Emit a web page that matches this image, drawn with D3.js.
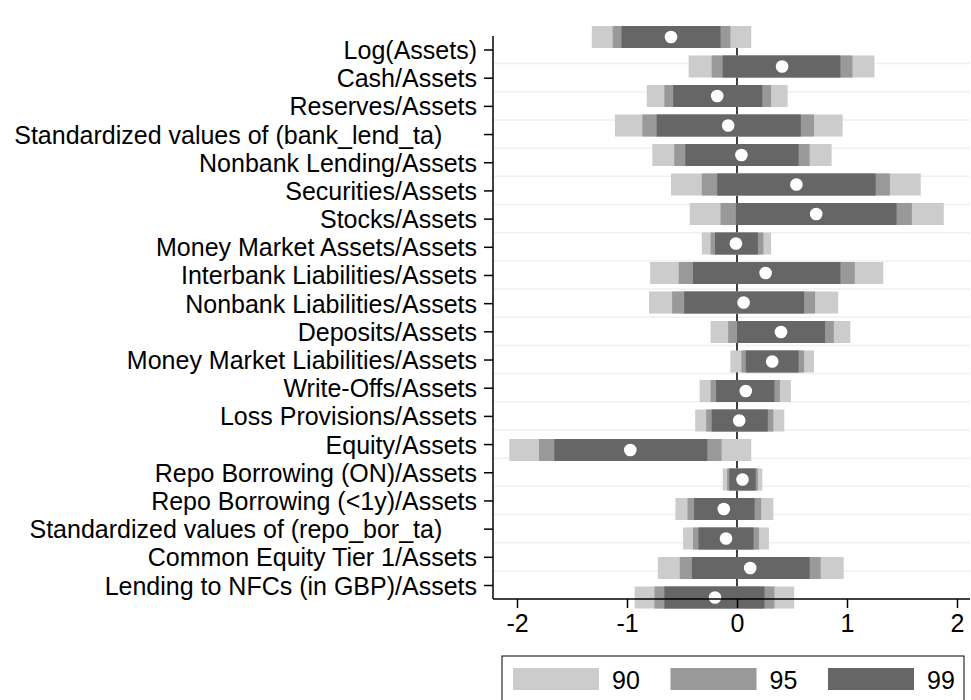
<!DOCTYPE html>
<html lang="en">
<head>
    <meta charset="UTF-8">
    <title>Coefficient plot</title>
    <script src="https://cdnjs.cloudflare.com/ajax/libs/d3/7.8.5/d3.min.js"></script>
    <style>
        body { margin: 0; background: white; }
        svg text { font-family: "Liberation Sans", Arial, sans-serif; fill: black; }
    </style>
</head>
<body>
<div id="chart"></div>
<script>
    const pad = '\u00a0\u00a0\u00a0\u00a0\u00a0';
    const labels = [
        'Log(Assets)', 'Cash/Assets', 'Reserves/Assets',
        'Standardized values of (bank_lend_ta)' + pad,
        'Nonbank Lending/Assets', 'Securities/Assets', 'Stocks/Assets',
        'Money Market Assets/Assets', 'Interbank Liabilities/Assets',
        'Nonbank Liabilities/Assets', 'Deposits/Assets',
        'Money Market Liabilities/Assets', 'Write-Offs/Assets',
        'Loss Provisions/Assets', 'Equity/Assets', 'Repo Borrowing (ON)/Assets',
        'Repo Borrowing (<1y)/Assets',
        'Standardized values of (repo_bor_ta)' + pad,
        'Common Equity Tier 1/Assets', 'Lending to NFCs (in GBP)/Assets'
    ];

    // point estimates
    const coef = [-0.60, 0.41, -0.18, -0.08, 0.04, 0.54, 0.72, -0.01, 0.26, 0.06,
        0.40, 0.32, 0.08, 0.02, -0.97, 0.05, -0.12, -0.10, 0.12, -0.20];

    // interval bounds, as drawn (90 = light outer band, 99 = dark inner band)
    const lo90 = [-1.32, -0.44, -0.82, -1.11, -0.77, -0.60, -0.43, -0.32, -0.79, -0.80,
        -0.24, -0.06, -0.34, -0.38, -2.07, -0.13, -0.56, -0.49, -0.72, -0.93];
    const hi90 = [0.13, 1.25, 0.46, 0.96, 0.86, 1.67, 1.88, 0.31, 1.33, 0.92,
        1.03, 0.70, 0.49, 0.43, 0.13, 0.23, 0.33, 0.29, 0.97, 0.52];
    const lo95 = [-1.13, -0.23, -0.66, -0.86, -0.57, -0.32, -0.15, -0.24, -0.53, -0.59,
        -0.08, 0.04, -0.24, -0.28, -1.80, -0.09, -0.45, -0.40, -0.52, -0.75];
    const hi95 = [-0.06, 1.05, 0.31, 0.70, 0.66, 1.39, 1.59, 0.24, 1.07, 0.71,
        0.88, 0.61, 0.39, 0.33, -0.14, 0.19, 0.22, 0.20, 0.76, 0.34];
    const lo99 = [-1.05, -0.13, -0.58, -0.73, -0.47, -0.18, -0.01, -0.20, -0.40, -0.48,
        0.00, 0.08, -0.19, -0.23, -1.66, -0.07, -0.39, -0.35, -0.41, -0.66];
    const hi99 = [-0.15, 0.94, 0.23, 0.58, 0.56, 1.26, 1.45, 0.19, 0.94, 0.61,
        0.80, 0.56, 0.34, 0.28, -0.27, 0.17, 0.16, 0.15, 0.66, 0.25];

    const xTicks = [-2, -1, 0, 1, 2];
    const levels = ['90', '95', '99'];
    const colors = ['#cccccc', '#999999', '#666666'];

    const width = 971, height = 700;
    const plot = {left: 493, right: 970, top: 36, bottom: 599};

    const svg = d3.select('#chart').append('svg')
        .attr('width', width).attr('height', height);

    const x = d3.scaleLinear().domain([-2, 2]).range([517, 957]);
    const yTick = d3.scalePoint().domain(labels).range([49.5, 585]);
    const yBar = d3.scalePoint().domain(labels).range([37, 597.5]);
    const barH = 22;

    // grid lines between the label ticks
    const mids = d3.pairs(labels).map(([a, b]) => (yTick(a) + yTick(b)) / 2);
    svg.append('g').selectAll('line').data(mids).join('line')
        .attr('x1', plot.left).attr('x2', plot.right)
        .attr('y1', d => d).attr('y2', d => d)
        .attr('stroke', '#eaf2f3').attr('stroke-width', 1.5);

    // zero line
    svg.append('line')
        .attr('x1', x(0)).attr('x2', x(0))
        .attr('y1', plot.top).attr('y2', plot.bottom)
        .attr('stroke', 'black').attr('stroke-width', 1.5);

    const bands = [[lo90, hi90], [lo95, hi95], [lo99, hi99]];
    bands.forEach(([lo, hi], k) => {
        svg.append('g').selectAll('rect').data(labels).join('rect')
            .attr('x', (d, i) => x(lo[i]))
            .attr('width', (d, i) => x(hi[i]) - x(lo[i]))
            .attr('y', d => yBar(d) - barH / 2)
            .attr('height', barH)
            .attr('fill', colors[k]);
    });

    svg.append('g').selectAll('circle').data(labels).join('circle')
        .attr('cx', (d, i) => x(coef[i]))
        .attr('cy', d => yBar(d))
        .attr('r', 6.3)
        .attr('fill', 'white');

    // y axis
    const yAxis = svg.append('g').attr('transform', `translate(${plot.left},0)`)
        .call(d3.axisLeft(yTick).tickSize(9).tickPadding(7));
    yAxis.select('.domain').remove();
    yAxis.selectAll('.tick line').attr('stroke-width', 1.5);
    yAxis.selectAll('.tick text').attr('font-size', 25).attr('font-family', null)
        .attr('dy', '0.36em');
    svg.append('line')
        .attr('x1', plot.left).attr('x2', plot.left)
        .attr('y1', plot.top).attr('y2', plot.bottom)
        .attr('stroke', 'black').attr('stroke-width', 1.5);

    // x axis
    const xAxis = svg.append('g').attr('transform', `translate(0,${plot.bottom})`)
        .call(d3.axisBottom(x).tickValues(xTicks).tickSize(9).tickPadding(6)
            .tickFormat(d => d < 0 ? '-' + Math.abs(d) : d));
    xAxis.select('.domain').remove();
    xAxis.selectAll('.tick line').attr('stroke-width', 1.5);
    xAxis.selectAll('.tick text').attr('font-size', 25).attr('font-family', null);
    svg.append('line')
        .attr('x1', plot.left).attr('x2', plot.right)
        .attr('y1', plot.bottom).attr('y2', plot.bottom)
        .attr('stroke', 'black').attr('stroke-width', 1.5);

    // legend
    const legend = svg.append('g');
    legend.append('rect')
        .attr('x', 502).attr('y', 656).attr('width', 462).attr('height', 80)
        .attr('fill', 'white').attr('stroke', 'black').attr('stroke-width', 1);
    const item = legend.selectAll('g.item').data(levels).join('g')
        .attr('class', 'item')
        .attr('transform', (d, i) => `translate(${513 + i * 157.5},668)`);
    item.append('rect').attr('width', 86).attr('height', 22)
        .attr('fill', (d, i) => colors[i]);
    item.append('text').attr('x', 99).attr('y', 21)
        .attr('font-size', 25).text(d => d);
</script>
</body>
</html>
